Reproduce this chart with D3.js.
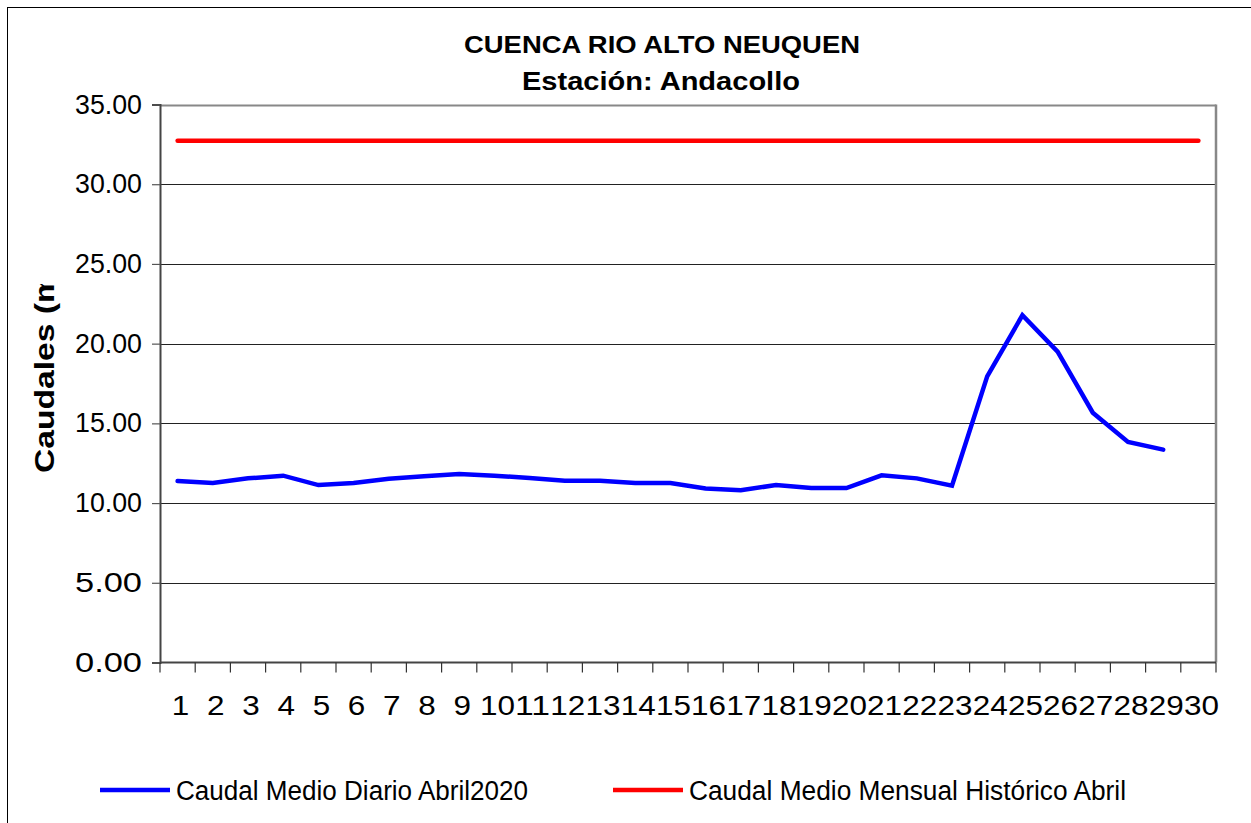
<!DOCTYPE html>
<html>
<head>
<meta charset="utf-8">
<script src="https://cdn.jsdelivr.net/npm/d3@7"></script>
<style>
  html, body { margin: 0; padding: 0; background: #fff; }
  svg { display: block; font-family: "Liberation Sans", Arial, sans-serif; }
</style>
</head>
<body>
<svg id="chart" width="1251" height="823"></svg>
<script>
// ---- data ----
const days = d3.range(1, 31).map(String);
const dailyFlow = [11.38, 11.26, 11.55, 11.72, 11.13, 11.26, 11.53, 11.68, 11.83, 11.72,
                   11.57, 11.40, 11.40, 11.26, 11.26, 10.92, 10.80, 11.13, 10.94, 10.94,
                   11.74, 11.55, 11.09, 17.95, 21.78, 19.50, 15.67, 13.83, 13.35];
const historicMean = 32.72;
const yTicks = [0, 5, 10, 15, 20, 25, 30, 35];
const seriesNames = ["Caudal Medio Diario Abril2020", "Caudal Medio Mensual Histórico Abril"];
const seriesColors = ["#0000ff", "#ff0000"];
const titleLines = ["CUENCA RIO ALTO NEUQUEN", "Estación: Andacollo"];
const yLabel = "Caudales (m³/s)";

// ---- layout ----
const svg = d3.select("#chart");
const pLeft = 160, pRight = 1216, pTop = 104.5, pBottom = 662.5;

const x = d3.scaleBand().domain(days).range([pLeft, pRight]).padding(0);
const y = d3.scaleLinear().domain([0, 35]).range([pBottom, pTop]);

// outer border
svg.append("rect").attr("x", 7.5).attr("y", 7.5).attr("width", 1300).attr("height", 900)
  .attr("fill", "none").attr("stroke", "#000").attr("stroke-width", 1);

// gridlines
svg.append("g").selectAll("line").data(yTicks.filter(d => d > 0)).join("line")
  .attr("x1", pLeft).attr("x2", pRight)
  .attr("y1", d => Math.round(y(d)) + 0.5).attr("y2", d => Math.round(y(d)) + 0.5)
  .attr("stroke", d => d === 35 ? "#888" : "#222")
  .attr("stroke-width", d => d === 35 ? 2 : 1.2);

// right border of plot
svg.append("line").attr("x1", pRight).attr("x2", pRight).attr("y1", pTop).attr("y2", pBottom)
  .attr("stroke", "#888").attr("stroke-width", 2.5);

// y axis
const yAxis = d3.axisLeft(y).tickValues(yTicks).tickSize(8).tickPadding(10)
  .tickFormat(d3.format(".2f"));
const gy = svg.append("g").attr("transform", `translate(${pLeft},0)`).call(yAxis);
gy.select(".domain").attr("stroke", "#444").attr("stroke-width", 2);
gy.selectAll(".tick line").attr("stroke", "#555").attr("stroke-width", 1.2);
gy.selectAll(".tick text").attr("font-size", 27).attr("fill", "#000")
  .attr("font-family", "Liberation Sans, Arial, sans-serif")
  .attr("textLength", 67).attr("lengthAdjust", "spacingAndGlyphs");

// x axis (ticks at category boundaries)
const boundaries = d3.range(0, 31).map(i => pLeft + i * x.bandwidth());
svg.append("line").attr("x1", pLeft).attr("x2", pRight).attr("y1", pBottom).attr("y2", pBottom)
  .attr("stroke", "#444").attr("stroke-width", 2);
svg.append("g").selectAll("line").data(boundaries).join("line")
  .attr("x1", d => d).attr("x2", d => d).attr("y1", pBottom).attr("y2", pBottom + 10)
  .attr("stroke", "#333").attr("stroke-width", 1.2);
svg.append("g").selectAll("text").data(days).join("text")
  .attr("x", d => x(d) + x.bandwidth() / 2 + 3 - d.length * 17.5 / 2)
  .attr("y", 715)
  .attr("font-size", 28)
  .attr("textLength", d => d.length * 17.5)
  .attr("lengthAdjust", "spacingAndGlyphs")
  .attr("fill", "#000")
  .text(d => d);

// lines
const lineGen = d3.line()
  .x((d, i) => x(days[i]) + x.bandwidth() / 2)
  .y(d => y(d));

svg.append("path").datum(days.map(() => historicMean))
  .attr("d", lineGen).attr("fill", "none")
  .attr("stroke", seriesColors[1]).attr("stroke-width", 4.5).attr("stroke-linecap", "round");

svg.append("path").datum(dailyFlow)
  .attr("d", lineGen).attr("fill", "none")
  .attr("stroke", seriesColors[0]).attr("stroke-width", 4.5)
  .attr("stroke-linejoin", "miter").attr("stroke-linecap", "round");

// title
function stretchedText(txt, cx, baseline, size, targetWidth, weight) {
  const t = svg.append("text")
    .attr("x", cx - targetWidth / 2).attr("y", baseline)
    .attr("font-size", size).attr("font-weight", weight)
    .attr("fill", "#000").text(txt);
  t.attr("textLength", targetWidth).attr("lengthAdjust", "spacingAndGlyphs");
  return t;
}
stretchedText(titleLines[0], 662, 53, 24, 396, "bold");
stretchedText(titleLines[1], 661, 90, 25, 278, "bold");

// y axis label (clipped at top as in the original)
svg.append("defs").append("clipPath").attr("id", "ylabclip")
  .append("rect").attr("x", 0).attr("y", 284).attr("width", 100).attr("height", 300);
const yl = svg.append("g").attr("clip-path", "url(#ylabclip)")
  .append("text")
  .attr("transform", "translate(54,473) rotate(-90)")
  .attr("font-size", 28).attr("font-weight", "bold").attr("fill", "#000")
  .text(yLabel);
const natural = yl.node().getComputedTextLength();
yl.attr("textLength", natural * 1.2).attr("lengthAdjust", "spacingAndGlyphs");

// legend
const legendItems = [
  { name: seriesNames[0], color: seriesColors[0], x0: 100, w: 352 },
  { name: seriesNames[1], color: seriesColors[1], x0: 613, w: 437 }
];
const lg = svg.append("g");
legendItems.forEach(it => {
  lg.append("line").attr("x1", it.x0).attr("x2", it.x0 + 70).attr("y1", 790).attr("y2", 790)
    .attr("stroke", it.color).attr("stroke-width", 4.5);
  lg.append("text").attr("x", it.x0 + 76).attr("y", 800)
    .attr("font-size", 27).attr("fill", "#000")
    .attr("textLength", it.w).attr("lengthAdjust", "spacingAndGlyphs")
    .text(it.name);
});
</script>
</body>
</html>
